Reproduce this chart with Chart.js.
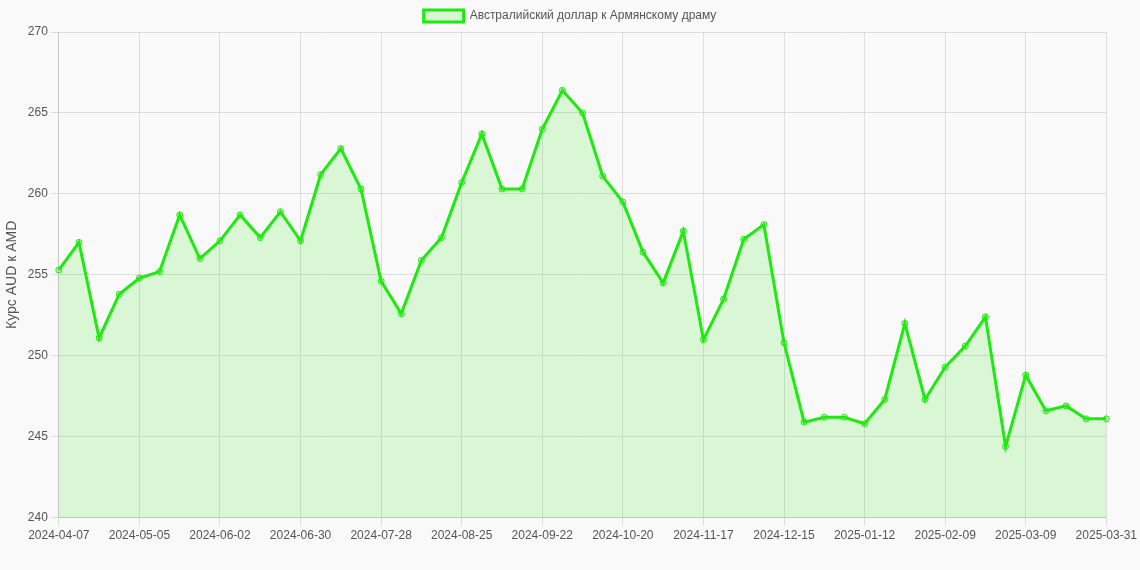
<!DOCTYPE html>
<html>
<head>
<meta charset="utf-8">
<script src="https://cdn.jsdelivr.net/npm/chart.js@4"></script>
<style>
  html, body { margin: 0; padding: 0; background: #f9f9f9; }
  #wrap { width: 1140px; height: 570px; }
</style>
</head>
<body>
<div id="wrap"><canvas id="myChart"></canvas></div>
<script>
const dates = [];
(function () {
    // weekly dates from 2024-04-07 to 2025-03-30, then 2025-03-31
    const d = new Date(Date.UTC(2024, 3, 7));
    for (let i = 0; i < 52; i++) {
        dates.push(d.toISOString().slice(0, 10));
        d.setUTCDate(d.getUTCDate() + 7);
    }
    dates.push('2025-03-31');
})();

const rates = [
    255.3, 257.0, 251.1, 253.8, 254.8, 255.2, 258.7, 256.0, 257.1, 258.7,
    257.3, 258.9, 257.1, 261.2, 262.8, 260.3, 254.6, 252.6, 255.9, 257.3,
    260.7, 263.7, 260.3, 260.3, 264.0, 266.4, 265.0, 261.1, 259.5, 256.4,
    254.5, 257.7, 251.0, 253.5, 257.2, 258.1, 250.8, 245.9, 246.2, 246.2,
    245.8, 247.3, 252.0, 247.3, 249.3, 250.6, 252.4, 244.4, 248.8, 246.6,
    246.9, 246.1, 246.1
];

const seriesLabel = 'Австралийский доллар к Армянскому драму';
const axisTitle = 'Курс AUD к AMD';

Chart.defaults.font.family = 'Arial, "Liberation Sans", sans-serif';
Chart.defaults.color = '#555';

new Chart(document.getElementById('myChart'), {
    type: 'line',
    data: {
        labels: dates,
        datasets: [{
            label: seriesLabel,
            data: rates,
            borderColor: '#1eea10',
            backgroundColor: 'rgba(34, 238, 0, 0.15)',
            borderWidth: 3,
            fill: true,
            tension: 0,
            pointRadius: 3,
            pointBorderWidth: 1,
            pointBackgroundColor: 'rgba(34, 238, 0, 0.2)',
            pointBorderColor: '#1eea10'
        }]
    },
    options: {
        responsive: true,
        maintainAspectRatio: false,
        animation: false,
        layout: { padding: { bottom: 24 } },
        plugins: {
            legend: {
                labels: { font: { size: 12 }, boxWidth: 40 }
            }
        },
        scales: {
            x: {
                ticks: { maxRotation: 0, autoSkip: true, maxTicksLimit: 14, font: { size: 12 } },
                grid: { color: '#dddddd' }
            },
            y: {
                min: 240,
                max: 270,
                ticks: { stepSize: 5, font: { size: 12 } },
                title: { display: true, text: axisTitle, font: { size: 14 } },
                grid: { color: '#dddddd' }
            }
        }
    }
});
</script>
</body>
</html>
